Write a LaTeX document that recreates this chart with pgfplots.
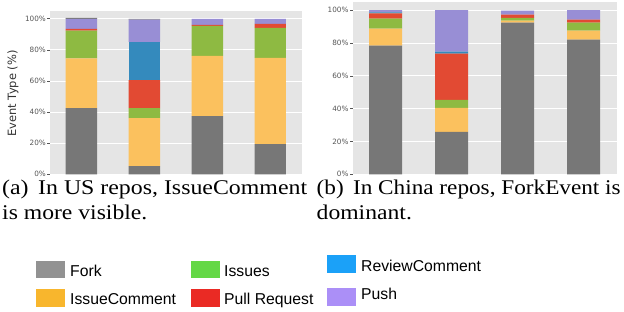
\documentclass[border=0pt]{standalone}
\usepackage{pgfplots}
\usepackage{pgfplotstable}
\pgfplotsset{compat=1.18}
\usepackage{fontspec}
\setmainfont{Liberation Serif}
\newfontfamily\dejavu{DejaVu Sans}
\newfontfamily\helv{Liberation Sans}

\definecolor{ggbg}{HTML}{E5E5E5}
\definecolor{cfork}{HTML}{777777}
\definecolor{cic}{HTML}{FBC15E}
\definecolor{ciss}{HTML}{8EBA42}
\definecolor{cpr}{HTML}{E24A33}
\definecolor{crev}{HTML}{348ABD}
\definecolor{cpush}{HTML}{988ED5}
\definecolor{lfork}{HTML}{929292}
\definecolor{lic}{HTML}{F8B62D}
\definecolor{liss}{HTML}{64D846}
\definecolor{lpr}{HTML}{EA2A24}
\definecolor{lrev}{HTML}{1BA1F8}
\definecolor{lpush}{HTML}{AB8FF7}
\definecolor{ticklab}{HTML}{555555}

\pgfplotstableread{
x fork ic iss pr rev push oth
0 42.6 32.0 17.7 1.2 0.0 6.5 0.6
1 5.2 30.9 6.5 18.0 24.6 14.2 0.6
2 37.4 38.7 19.4 0.6 0.0 3.9 0.0
3 19.4 55.4 19.4 2.6 0.0 3.2 0.0
}\tableUS

\pgfplotstableread{
x fork ic iss pr rev push oth
0 78.4 10.3 6.1 3.2 0.7 1.3 0.0
1 25.9 14.6 4.9 28.1 1.2 25.3 0.0
2 92.4 1.2 1.8 1.9 0.0 2.4 0.0
3 82.0 5.5 4.9 1.8 0.0 5.8 0.0
}\tableCN

\pgfplotsset{
  ggbar/.style={
    scale only axis,
    anchor=south west,
    axis background/.style={fill=ggbg},
    ybar stacked, bar width=0.5,
    xmin=-0.5, xmax=3.5, ymin=0, ymax=105,
    xtick=\empty,
    ytick={0,20,40,60,80,100},
    yticklabels={0\%,20\%,40\%,60\%,80\%,100\%},
    ymajorgrids,
    grid style={white, line width=0.9bp},
    axis line style={draw=none},
    ytick pos=left, tick align=outside,
    major tick length=2.5bp,
    tick style={ticklab, line width=0.6bp},
    yticklabel style={font=\dejavu\fontsize{7.3}{8}\selectfont, text=ticklab, inner sep=1.5bp},
  },
  bs/.style={fill=#1, draw=none},
}

\begin{document}
\begin{tikzpicture}
\useasboundingbox (0,0) rectangle (624bp,312bp);

\begin{axis}[ggbar, at={(50bp,137.7bp)}, width=251.7bp, height=163.3bp]
\addplot[bs=cfork] table[x=x,y=fork]{\tableUS};
\addplot[bs=cic] table[x=x,y=ic]{\tableUS};
\addplot[bs=ciss] table[x=x,y=iss]{\tableUS};
\addplot[bs=cpr] table[x=x,y=pr]{\tableUS};
\addplot[bs=crev] table[x=x,y=rev]{\tableUS};
\addplot[bs=cpush] table[x=x,y=push]{\tableUS};
\addplot[bs=cfork] table[x=x,y=oth]{\tableUS};
\end{axis}

\begin{axis}[ggbar, at={(352.7bp,137.7bp)}, width=264bp, height=172.3bp]
\addplot[bs=cfork] table[x=x,y=fork]{\tableCN};
\addplot[bs=cic] table[x=x,y=ic]{\tableCN};
\addplot[bs=ciss] table[x=x,y=iss]{\tableCN};
\addplot[bs=cpr] table[x=x,y=pr]{\tableCN};
\addplot[bs=crev] table[x=x,y=rev]{\tableCN};
\addplot[bs=cpush] table[x=x,y=push]{\tableCN};
\addplot[bs=cfork] table[x=x,y=oth]{\tableCN};
\end{axis}

% y label
\node[rotate=90, inner sep=0pt, font=\dejavu\fontsize{11.5}{13}\selectfont, text=black!80] at (13bp,218.5bp) {Event Type (\%)};

% captions
\begin{scope}[every node/.style={inner sep=0pt, font=\fontsize{21}{25}\selectfont}]
\node[anchor=base west] at (2bp,117.7bp) {\scalebox{1.14}[1]{(a)\hspace{0.4em}In US repos, IssueComment}};
\node[anchor=base west] at (2bp,92bp) {\scalebox{1.13}[1]{is more visible.}};
\node[anchor=base west] at (316.5bp,117.7bp) {\scalebox{1.11}[1]{(b)\hspace{0.4em}In China repos, ForkEvent is}};
\node[anchor=base west] at (316.5bp,92bp) {\scalebox{1.13}[1]{dominant.}};
\end{scope}

% legend
\begin{scope}[every node/.style={inner sep=0pt, anchor=base west, font=\helv\fontsize{15.8}{18}\selectfont}]
\fill[lfork] (36bp,33.7bp) rectangle (65bp,51bp);
\node at (70bp,35.3bp) {Fork};
\fill[lic] (36bp,5.3bp) rectangle (65bp,23bp);
\node at (70bp,8bp) {IssueComment};
\fill[liss] (191bp,34bp) rectangle (220bp,51bp);
\node at (224bp,35.3bp) {Issues};
\fill[lpr] (191bp,5.3bp) rectangle (220bp,23bp);
\node at (224bp,7.7bp) {Pull Request};
\fill[lrev] (327bp,39bp) rectangle (356bp,57bp);
\node at (361bp,40.3bp) {ReviewComment};
\fill[lpush] (327bp,6.3bp) rectangle (356bp,24.3bp);
\node at (361bp,12.7bp) {Push};
\end{scope}
\end{tikzpicture}
\end{document}
